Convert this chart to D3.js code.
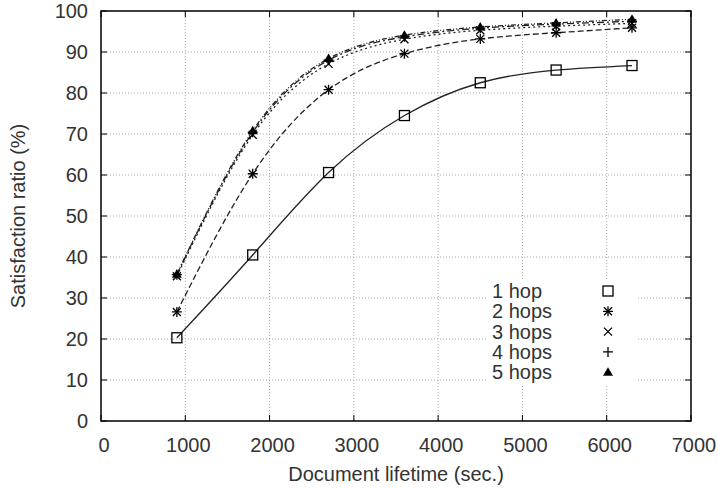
<!DOCTYPE html>
<html>
<head>
<meta charset="utf-8">
<title>satisfaction</title>
<style>
  body { margin: 0; background: #fff; }
  svg { font-family: "Liberation Sans", Arial, sans-serif; }
  .tick-label { font-size: 20px; fill: #333; }
  .axis-title { font-size: 20px; fill: #333; }
  .grid { stroke: #aaa; stroke-width: 1; stroke-dasharray: 1,2; fill: none; }
  .curve { fill: none; stroke: #222; stroke-width: 1.3; }
</style>
</head>
<body>
<div id="chart"></div>
<script src="https://d3js.org/d3.v7.min.js"></script>
<script>
// document lifetime (sec.)
var lifetimes = [900, 1800, 2700, 3600, 4500, 5400, 6300];
var seriesNames = ["1 hop", "2 hops", "3 hops", "4 hops", "5 hops"];
// satisfaction ratio (%) per series
var hop1 = [20.3, 40.5, 60.6, 74.5, 82.5, 85.6, 86.7];
var hop2 = [26.6, 60.3, 80.8, 89.6, 93.2, 94.7, 95.9];
var hop3 = [35.3, 69.8, 87.1, 93.1, 95.3, 96.3, 97.0];
var hop4 = [35.7, 70.4, 88.0, 93.7, 95.8, 96.8, 97.5];
var hop5 = [35.8, 70.8, 88.4, 94.1, 96.1, 97.1, 98.0];
var xTicks = [0, 1000, 2000, 3000, 4000, 5000, 6000, 7000];
var yTicks = [0, 10, 20, 30, 40, 50, 60, 70, 80, 90, 100];

var W = 718, H = 489;
var pLeft = 101, pRight = 691, pTop = 11, pBottom = 421;

var series = [hop1, hop2, hop3, hop4, hop5].map(function(vals, i) {
  return { name: seriesNames[i], values: vals.map(function(v, j) { return { x: lifetimes[j], y: v }; }) };
});
var dashes = [null, "6,3", "2,3", "7,3,2,3", "5,2,1,2,1,2"];
var symbols = ["square", "asterisk", "cross", "plus", "triangle"];

var x = d3.scaleLinear().domain([0, 7000]).range([pLeft, pRight]);
var y = d3.scaleLinear().domain([0, 100]).range([pBottom, pTop]);

var svg = d3.select("#chart").append("svg")
  .attr("width", W).attr("height", H);

// grid
svg.append("g").selectAll("line").data(yTicks.slice(1, -1)).enter().append("line")
  .attr("class", "grid")
  .attr("x1", pLeft).attr("x2", pRight)
  .attr("y1", function(d) { return y(d); }).attr("y2", function(d) { return y(d); });
svg.append("g").selectAll("line").data(xTicks.slice(1, -1)).enter().append("line")
  .attr("class", "grid")
  .attr("y1", pTop).attr("y2", pBottom)
  .attr("x1", function(d) { return x(d); }).attr("x2", function(d) { return x(d); });

// legend background hides grid
var legX = 487, legY = 279;
svg.append("rect").attr("x", legX).attr("y", legY).attr("width", 150).attr("height", 105).attr("fill", "#fff");

// ticks inside, mirrored
var tk = svg.append("g").attr("stroke", "#000").attr("stroke-width", 1);
yTicks.forEach(function(t) {
  tk.append("line").attr("x1", pLeft).attr("x2", pLeft + 6).attr("y1", y(t)).attr("y2", y(t));
  tk.append("line").attr("x1", pRight).attr("x2", pRight - 6).attr("y1", y(t)).attr("y2", y(t));
});
xTicks.forEach(function(t) {
  tk.append("line").attr("y1", pBottom).attr("y2", pBottom - 6).attr("x1", x(t)).attr("x2", x(t));
  tk.append("line").attr("y1", pTop).attr("y2", pTop + 6).attr("x1", x(t)).attr("x2", x(t));
});

// tick labels
svg.append("g").selectAll("text").data(yTicks).enter().append("text")
  .attr("class", "tick-label")
  .attr("x", pLeft - 13).attr("y", function(d) { return y(d); })
  .attr("dy", "0.35em").attr("text-anchor", "end")
  .text(function(d) { return d; });
svg.append("g").selectAll("text").data(xTicks).enter().append("text")
  .attr("class", "tick-label")
  .attr("x", function(d) { return x(d) + 3; }).attr("y", pBottom + 24)
  .attr("dy", "0.35em").attr("text-anchor", "middle")
  .text(function(d) { return d; });

// axis titles
svg.append("text").attr("class", "axis-title")
  .attr("x", (pLeft + pRight) / 2).attr("y", 474).attr("dy", "0.35em")
  .attr("text-anchor", "middle").text("Document lifetime (sec.)");
svg.append("text").attr("class", "axis-title")
  .attr("transform", "translate(18," + ((pTop + pBottom) / 2) + ") rotate(-90)")
  .attr("dy", "0.35em").attr("text-anchor", "middle").text("Satisfaction ratio (%)");

// curves
var line = d3.line().curve(d3.curveNatural)
  .x(function(d) { return x(d.x); }).y(function(d) { return y(d.y); });
svg.append("g").selectAll("path").data(series).enter().append("path")
  .attr("class", "curve")
  .attr("stroke-dasharray", function(d, i) { return dashes[i]; })
  .attr("d", function(d) { return line(d.values); });

function drawSymbol(g, kind, cx, cy) {
  var s = 5;
  if (kind === "square") {
    g.append("rect").attr("x", cx - s).attr("y", cy - s).attr("width", 2 * s).attr("height", 2 * s)
      .attr("fill", "none").attr("stroke", "#000").attr("stroke-width", 1.3);
  } else if (kind === "plus" || kind === "asterisk") {
    g.append("path").attr("d", "M" + (cx - s) + "," + cy + "h" + 2 * s + "M" + cx + "," + (cy - s) + "v" + 2 * s)
      .attr("stroke", "#000").attr("stroke-width", 1.3);
  }
  if (kind === "cross" || kind === "asterisk") {
    var c = s * 0.8;
    g.append("path").attr("d", "M" + (cx - c) + "," + (cy - c) + "L" + (cx + c) + "," + (cy + c) +
      "M" + (cx - c) + "," + (cy + c) + "L" + (cx + c) + "," + (cy - c))
      .attr("stroke", "#000").attr("stroke-width", 1.3);
  }
  if (kind === "triangle") {
    g.append("path").attr("d", "M" + cx + "," + (cy - s) + "L" + (cx + s) + "," + (cy + s * 0.7) + "L" + (cx - s) + "," + (cy + s * 0.7) + "Z")
      .attr("fill", "#000");
  }
}

// points
var pts = svg.append("g");
series.forEach(function(sr, i) {
  sr.values.forEach(function(d) { drawSymbol(pts, symbols[i], x(d.x), y(d.y)); });
});

// legend
var leg = svg.append("g");
series.forEach(function(sr, i) {
  var ly = 291 + i * 20.3;
  leg.append("text").attr("class", "tick-label").attr("x", 492).attr("y", ly).attr("dy", "0.35em").text(sr.name);
  drawSymbol(leg, symbols[i], 608, ly);
});

// frame
svg.append("rect").attr("x", pLeft).attr("y", pTop).attr("width", pRight - pLeft).attr("height", pBottom - pTop)
  .attr("fill", "none").attr("stroke", "#000").attr("stroke-width", 1.5);
</script>
</body>
</html>
